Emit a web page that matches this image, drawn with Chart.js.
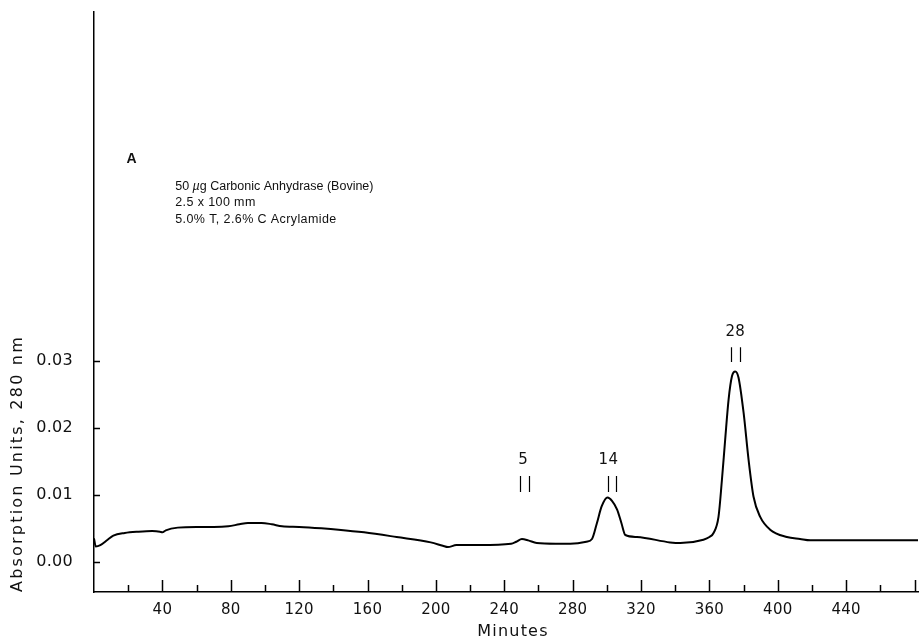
<!DOCTYPE html>
<html>
<head>
<meta charset="utf-8">
<script src="https://cdn.jsdelivr.net/npm/chart.js@4/dist/chart.umd.min.js"></script>
<style>
  html, body { margin: 0; padding: 0; background: #fff; }
  canvas { display: block; }
</style>
</head>
<body>
<canvas id="chromatogram" width="922" height="644"></canvas>
<script>
// trace: elution time (minutes) vs absorbance at 280 nm
var minutes = [0, 1, 3.7, 8, 11.3, 18, 26, 34, 38.6, 40, 42, 49, 60, 70, 78.6, 85, 90, 98, 104, 110,
    120, 133, 143, 158, 177, 197, 204, 207, 212, 226, 244, 247, 250.3, 254, 259, 270, 278.6, 288, 291.3, 294.2,
    297, 300.4, 303, 306, 308.5, 310.8, 317.6, 337, 343, 356.5, 360, 362.4, 365.3, 367.3, 369.2, 371.2, 373.2, 375.1,
    377, 380, 382.9, 385.8, 389.7, 395.5, 405.3, 413, 419, 440, 460, 482];
var absorbance = [0.0035, 0.0023, 0.0025, 0.0033, 0.0039, 0.0043, 0.0045, 0.0046, 0.0045, 0.0044, 0.0047, 0.0051, 0.0052, 0.0052, 0.0053, 0.0056, 0.0058, 0.0058, 0.0056, 0.0053,
    0.0052, 0.0050, 0.0048, 0.0044, 0.0037, 0.0029, 0.0024, 0.0022, 0.0025, 0.0025, 0.0027, 0.0030, 0.0034, 0.0032, 0.0028, 0.0027, 0.0027, 0.0030, 0.0034, 0.0058,
    0.0083, 0.0096, 0.0091, 0.0078, 0.0058, 0.0040, 0.0037, 0.0029, 0.0028, 0.0033, 0.0037, 0.0043, 0.0067, 0.0122, 0.0182, 0.0242, 0.0277, 0.0284,
    0.0275, 0.0222, 0.0152, 0.0097, 0.0067, 0.0048, 0.0037, 0.0034, 0.0032, 0.0032, 0.0032, 0.0032];

var xTicks = [0, 20, 40, 60, 80, 100, 120, 140, 160, 180, 200, 220, 240, 260, 280, 300, 320, 340, 360, 380, 400, 420, 440, 460, 480];
var xLabelled = [40, 80, 120, 160, 200, 240, 280, 320, 360, 400, 440];
var yTicks = [0, 0.01, 0.02, 0.03];

var xTitle = 'Minutes';
var yTitle = 'Absorption Units, 280 nm';

// fraction markers over the peaks
var peakLabels = ['5', '14', '28'];
var labelAt = [251.0, 300.9, 375.1];
var markLeft = [249.4, 300.6, 372.6];
var markRight = [254.2, 305.3, 377.6];
var markLow = [0.0104, 0.0104, 0.0298];
var markHigh = [0.0128, 0.0128, 0.0320];
var labelLevel = [0.0152, 0.0152, 0.0343];

var panelLetter = 'A';
var noteLines = ['2.5 x 100 mm', '5.0% T, 2.6% C Acrylamide'];

var tickFont = { family: 'DejaVu Sans', size: 15 };

var innerTicks = {
    id: 'innerTicks',
    beforeDraw: function (chart) {
        chart.ctx.letterSpacing = '0.3px';
    },
    afterDraw: function (chart) {
        var ctx = chart.ctx, x = chart.scales.x, y = chart.scales.y, area = chart.chartArea;
        ctx.save();
        ctx.strokeStyle = '#000';
        ctx.fillStyle = '#111';
        ctx.lineWidth = 1.5;
        ctx.beginPath();
        xTicks.forEach(function (v) {
            if (v === 0) return;
            var px = Math.round(x.getPixelForValue(v)) + 0.5;
            var len = v % 40 === 0 ? 12 : 7;
            ctx.moveTo(px, area.bottom);
            ctx.lineTo(px, area.bottom - len);
        });
        yTicks.forEach(function (v) {
            var py = Math.round(y.getPixelForValue(v)) + 0.5;
            ctx.moveTo(area.left, py);
            ctx.lineTo(area.left + 6, py);
        });
        ctx.stroke();

        // double bars + fraction numbers
        ctx.lineWidth = 1.2;
        ctx.beginPath();
        for (var i = 0; i < peakLabels.length; i++) {
            [markLeft[i], markRight[i]].forEach(function (m) {
                var px = Math.round(x.getPixelForValue(m)) + 0.5;
                ctx.moveTo(px, y.getPixelForValue(markLow[i]));
                ctx.lineTo(px, y.getPixelForValue(markHigh[i]));
            });
        }
        ctx.stroke();
        ctx.font = '15px "DejaVu Sans"';
        ctx.textAlign = 'center';
        ctx.textBaseline = 'middle';
        for (var j = 0; j < peakLabels.length; j++) {
            ctx.fillText(peakLabels[j], x.getPixelForValue(labelAt[j]), y.getPixelForValue(labelLevel[j]));
        }

        // axis titles
        ctx.font = '16px "DejaVu Sans"';
        ctx.letterSpacing = '1.2px';
        ctx.fillText(xTitle, (area.left + area.right) / 2 + 7, 632);
        ctx.save();
        ctx.translate(18, area.bottom);
        ctx.rotate(-Math.PI / 2);
        ctx.textAlign = 'left';
        ctx.letterSpacing = '2.2px';
        ctx.fillText(yTitle, 0, 0);
        ctx.restore();

        // panel letter and run conditions
        ctx.textAlign = 'left';
        ctx.letterSpacing = '0px';
        ctx.font = 'bold 14px "Liberation Sans"';
        ctx.fillText(panelLetter, x.getPixelForValue(19), y.getPixelForValue(0.0600));
        var left = x.getPixelForValue(47.5);
        var top = y.getPixelForValue(0.0560);
        // first line carries an italic micro sign
        var parts = [['50 ', ''], ['\u00b5', 'italic '], ['g Carbonic Anhydrase (Bovine)', '']];
        var cur = left;
        parts.forEach(function (p) {
            ctx.font = p[1] + '12.5px "Liberation Sans"';
            ctx.fillText(p[0], cur, top);
            cur += ctx.measureText(p[0]).width;
        });
        ctx.font = '12.5px "Liberation Sans"';
        ctx.letterSpacing = '0.4px';
        var levels = [0.0536, 0.0511];
        noteLines.forEach(function (line, k) {
            ctx.fillText(line, left, y.getPixelForValue(levels[k]));
        });
        ctx.restore();
    }
};

var points = minutes.map(function (m, i) { return { x: m, y: absorbance[i] }; });

new Chart(document.getElementById('chromatogram').getContext('2d'), {
    type: 'line',
    data: {
        datasets: [{
            data: points,
            borderColor: '#000',
            borderWidth: 2,
            pointRadius: 0,
            fill: false,
            cubicInterpolationMode: 'monotone'
        }]
    },
    options: {
        responsive: false,
        animation: false,
        devicePixelRatio: 1,
        layout: { padding: { top: 12, right: 4, left: 0, bottom: 0 } },
        plugins: { legend: { display: false }, tooltip: { enabled: false } },
        scales: {
            x: {
                type: 'linear',
                min: 0,
                max: 482,
                afterBuildTicks: function (scale) {
                    scale.ticks = xTicks.map(function (v) { return { value: v }; });
                },
                afterFit: function (scale) {
                    scale.height = 52;
                    scale.paddingLeft = 0;
                    scale.paddingRight = 0;
                },
                grid: { display: false },
                border: { display: true, color: '#000', width: 1.5 },
                ticks: {
                    autoSkip: false,
                    maxRotation: 0,
                    padding: 1,
                    color: '#111',
                    font: tickFont,
                    callback: function (v) { return xLabelled.indexOf(v) >= 0 ? String(v) : ''; }
                }
            },
            y: {
                min: -0.0045,
                max: 0.082,
                afterBuildTicks: function (scale) {
                    scale.ticks = yTicks.map(function (v) { return { value: v }; });
                },
                afterFit: function (scale) {
                    scale.width = 94;
                    scale.paddingTop = 0;
                    scale.paddingBottom = 0;
                },
                grid: { display: false },
                border: { display: true, color: '#000', width: 1.5 },
                ticks: {
                    padding: 13,
                    color: '#111',
                    font: { family: 'DejaVu Sans', size: 16 },
                    callback: function (v) { return v.toFixed(2); }
                }
            }
        }
    },
    plugins: [innerTicks]
});
</script>
</body>
</html>
